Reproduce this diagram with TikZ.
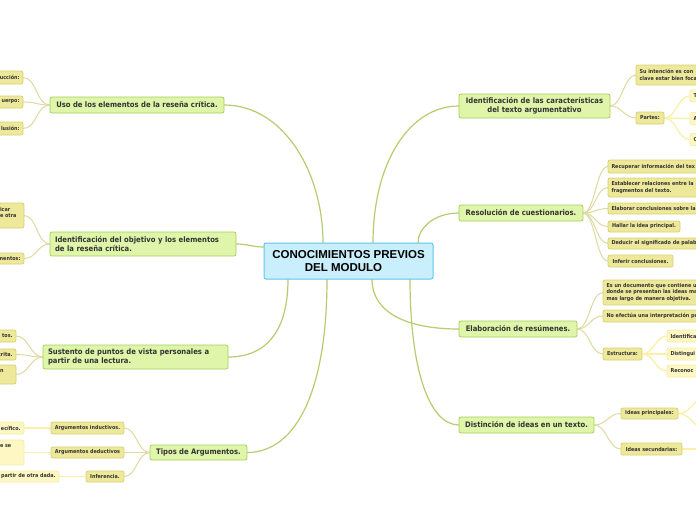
\documentclass[tikz,border=0pt]{standalone}
\usepackage{fontspec}
\usetikzlibrary{backgrounds}
\newfontfamily\dvc[FakeStretch=0.9]{DejaVu Sans}
\newfontfamily\libs{Liberation Sans}
\definecolor{cfill}{HTML}{C9EEFC}
\definecolor{cborder}{HTML}{62C6EE}
\definecolor{lonefill}{HTML}{DFF5A9}
\definecolor{loneborder}{HTML}{A9D05A}
\definecolor{ltwofill}{HTML}{EEE99A}
\definecolor{ltwoborder}{HTML}{D9D274}
\definecolor{lthreefill}{HTML}{FEF7C3}
\definecolor{lthreeborder}{HTML}{F8EEA6}
\definecolor{conone}{HTML}{B5CD6E}
\definecolor{contwo}{HTML}{DEDAA0}
\definecolor{conthree}{HTML}{FBF1A6}
\definecolor{txt}{HTML}{333333}
\newcommand\fcenter{\libs\bfseries\fontsize{11.5}{12.5}\selectfont}
\newcommand\fone{\dvc\bfseries\fontsize{7.6}{8.8}\selectfont}
\newcommand\ftwo{\dvc\bfseries\fontsize{5.4}{6.3}\selectfont}
\tikzset{
  basebox/.style={rounded corners=2pt, inner ysep=0pt, outer sep=0pt, line width=0.8pt, text=txt},
  cnode/.style={basebox, draw=cborder, fill=cfill, font=\fcenter, text=black, align=center, inner xsep=4pt, line width=1pt},
  lone/.style={basebox, draw=loneborder, fill=lonefill, font=\fone, inner xsep=5pt},
  ltwo/.style={basebox, draw=ltwoborder, fill=ltwofill, font=\ftwo, inner xsep=3.5pt},
  lthree/.style={basebox, draw=lthreeborder, fill=lthreefill, font=\ftwo, inner xsep=3.5pt},
  cone/.style={draw=conone, line width=1.2pt},
  ctwo/.style={draw=contwo, line width=1pt},
  cthree/.style={draw=conthree, line width=1.3pt},
}
\begin{document}
\begin{tikzpicture}[x=1pt,y=-1pt]
\useasboundingbox (0,0) rectangle (696,520);
\clip (0,0) rectangle (696,520);
% center
\node[cnode, minimum width=169, minimum height=36] (c) at (348.5,261) {CONOCIMIENTOS PREVIOS\\DEL MODULO\hspace*{10pt}};
% level 1
\node[lone, minimum width=174, minimum height=16] (n1) at (137,105) {Uso de los elementos de la reseña crítica.};
\node[lone, text width=176, align=left, minimum height=24] (n2) at (143,244) {Identificación del objetivo y los elementos\\de la reseña crítica.};
\node[lone, text width=175, align=left, minimum height=24] (n3) at (135.5,357) {Sustento de puntos de vista personales a\\partir de una lectura.};
\node[lone, minimum width=97, minimum height=15] (n4) at (198.5,452.5) {Tipos de Argumentos.};
\node[lone, text width=141, align=center, minimum height=24] (n5) at (534.5,106) {Identificación de las características\\del texto argumentativo};
\node[lone, minimum width=124, minimum height=16] (n6) at (521,213) {Resolución de cuestionarios.};
\node[lone, minimum width=118, minimum height=16] (n7) at (518,329) {Elaboración de resúmenes.};
\node[lone, minimum width=135, minimum height=16] (n8) at (526.5,425) {Distinción de ideas en un texto.};
% left level 2 / 3
\node[ltwo, anchor=east, text width=40, align=right, minimum height=13] (i1) at (23,77.5) {ucción:};
\node[ltwo, anchor=east, text width=40, align=right, minimum height=12] (i2) at (23,102) {uerpo:};
\node[ltwo, anchor=east, text width=40, align=right, minimum height=13] (i3) at (23,128.5) {lusión:};
\node[ltwo, anchor=east, text width=20.5, align=left, minimum height=25] (j1) at (24,215.5) {icar\\e otra\\\mbox{}};
\node[ltwo, anchor=east, text width=40, align=right, minimum height=11] (j2) at (24,258.5) {mentos:};
\node[ltwo, anchor=east, text width=40, align=right, minimum height=12] (k1) at (16,336) {tos.};
\node[ltwo, anchor=east, text width=40, align=right, minimum height=11] (k2) at (16,354.5) {crita.};
\node[ltwo, anchor=east, text width=12.5, align=left, minimum height=19] (k3) at (16,374.5) {n\\\mbox{}};
\node[ltwo, minimum width=73, minimum height=12] (m1) at (87.5,428) {Argumentos inductivos.};
\node[ltwo, minimum width=73, minimum height=11] (m2) at (87.5,452.5) {Argumentos deductivos};
\node[ltwo, minimum width=38, minimum height=11] (m3) at (105,476.5) {Inferencia.};
\node[lthree, anchor=east, text width=40, align=right, minimum height=12] (p1) at (24,428) {ecífico.};
\node[lthree, anchor=east, text width=20.5, align=left, minimum height=25] (p2) at (24,452.5) {e se\\\mbox{}\\\mbox{}};
\node[lthree, anchor=east, text width=80, align=right, minimum height=11] (p3) at (59,476.5) {partir de otra dada.};
% right level 2 / 3
\node[ltwo, anchor=west, text width=120, align=left, minimum height=20] (q1) at (636,75) {Su intención es con\\clave estar bien foca};
\node[ltwo, minimum width=28, minimum height=12] (q2) at (650,118) {Partes:};
\node[lthree, anchor=west, text width=60, align=left, minimum height=12] (r1) at (690,96) {T};
\node[lthree, anchor=west, text width=60, align=left, minimum height=12] (r2) at (690,118.5) {A};
\node[lthree, anchor=west, text width=60, align=left, minimum height=12] (r3) at (690,139.5) {C};
\node[ltwo, anchor=west, text width=120, align=left, minimum height=13] (s1) at (608,166.5) {Recuperar información del tex};
\node[ltwo, anchor=west, text width=120, align=left, minimum height=19] (s2) at (608,187.5) {Establecer relaciones entre la\\fragmentos del texto.};
\node[ltwo, anchor=west, text width=120, align=left, minimum height=11] (s3) at (608,208.5) {Elaborar conclusiones sobre la};
\node[ltwo, minimum width=72, minimum height=11] (s4) at (644,226.5) {Hallar la idea principal.};
\node[ltwo, anchor=west, text width=120, align=left, minimum height=11] (s5) at (608,243.5) {Deducir el significado de palab};
\node[ltwo, minimum width=65, minimum height=12] (s6) at (640.5,261) {Inferir conclusiones.};
\node[ltwo, anchor=west, text width=120, align=left, minimum height=25] (t1) at (603,292.5) {Es un documento que contiene u\\donde se presentan las ideas ma\\mas largo de manera objetiva.};
\node[ltwo, anchor=west, text width=120, align=left, minimum height=12] (t2) at (603,316) {No efectúa una interpretación pe};
\node[ltwo, minimum width=39, minimum height=12] (t3) at (622.5,354) {Estructura:};
\node[lthree, anchor=west, text width=60, align=left, minimum height=12] (u1) at (667,336) {Identifica};
\node[lthree, anchor=west, text width=60, align=left, minimum height=12] (u2) at (667,354) {Distingui};
\node[lthree, anchor=west, text width=60, align=left, minimum height=12] (u3) at (667,371) {Reconoc};
\node[ltwo, minimum width=57, minimum height=11] (v1) at (649.5,413.5) {Ideas principales:};
\node[ltwo, minimum width=61, minimum height=12] (v2) at (651.5,449) {Ideas secundarias:};
\coordinate (w1) at (712,392);
\coordinate (w2) at (712,434);
\coordinate (w3) at (712,449);
% connectors
\begin{scope}[on background layer]
\fill[white] (0,0) rectangle (696,520);
\draw[cone] ([xshift=-25.5pt]c.north) .. controls +(0,-70) and +(60,0) .. (n1.east);
\draw[cone] ([yshift=14pt]c.west) .. controls +(-12,0) and +(12,0) .. (n2.east);
\draw[cone] ([xshift=-60.5pt]c.south) .. controls +(0,50) and +(40,0) .. (n3.east);
\draw[cone] ([xshift=-21.5pt]c.south) .. controls +(0,110) and +(50,0) .. (n4.east);
\draw[cone] ([xshift=24.5pt]c.north) .. controls +(0,-80) and +(-50,0) .. (n5.west);
\draw[cone] ([xshift=69.5pt]c.north) .. controls +(0,-15) and +(-25,0) .. (n6.west);
\draw[cone] ([xshift=23.5pt]c.south) .. controls +(0,35) and +(-50,0) .. (n7.west);
\draw[cone] ([xshift=61.5pt]c.south) .. controls +(0,90) and +(-30,0) .. (n8.west);
% left
\foreach \k in {i1,i2,i3} \draw[ctwo] (n1.west) .. controls +(-14,0) and +(14,0) .. (\k.east);
\foreach \k in {j1,j2} \draw[ctwo] (n2.west) .. controls +(-13,0) and +(13,0) .. (\k.east);
\foreach \k in {k1,k2,k3} \draw[ctwo] (n3.west) .. controls +(-13,0) and +(13,0) .. (\k.east);
\foreach \k in {m1,m2,m3} \draw[ctwo] (n4.west) .. controls +(-13,0) and +(13,0) .. (\k.east);
\draw[cthree] (m1.west) -- (p1.east);
\draw[cthree] (m2.west) -- (p2.east);
\draw[cthree] (m3.west) -- (p3.east);
% right
\foreach \k in {q1,q2} \draw[ctwo] (n5.east) .. controls +(12,0) and +(-12,0) .. (\k.west);
\foreach \k in {r1,r2,r3} \draw[cthree] (q2.east) .. controls +(13,0) and +(-13,0) .. (\k.west);
\foreach \k in {s1,s2,s3,s4,s5,s6} \draw[ctwo] (n6.east) .. controls +(12,0) and +(-12,0) .. (\k.west);
\foreach \k in {t1,t2,t3} \draw[ctwo] (n7.east) .. controls +(13,0) and +(-13,0) .. (\k.west);
\foreach \k in {u1,u2,u3} \draw[cthree] (t3.east) .. controls +(12,0) and +(-12,0) .. (\k.west);
\foreach \k in {v1,v2} \draw[ctwo] (n8.east) .. controls +(13,0) and +(-13,0) .. (\k.west);
\foreach \k in {w1,w2} \draw[cthree] (v1.east) .. controls +(15,0) and +(-15,0) .. (\k);
\draw[cthree] (v2.east) -- (w3);
\end{scope}
\end{tikzpicture}
\end{document}
